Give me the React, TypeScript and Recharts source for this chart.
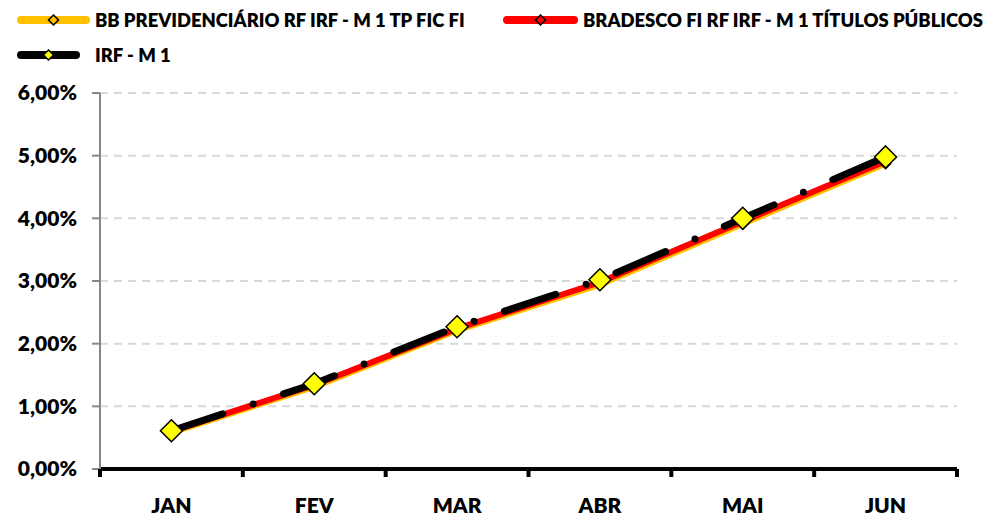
import { LineChart, Line, XAxis, YAxis, CartesianGrid } from "recharts";

// meses e rentabilidade acumulada (%)
const meses = ["JAN", "FEV", "MAR", "ABR", "MAI", "JUN"];
const bbPrev = [0.58, 1.31, 2.21, 2.94, 3.91, 4.87];
const bradesco = [0.6, 1.34, 2.24, 2.98, 3.95, 4.91];
const irfM1 = [0.61, 1.36, 2.27, 3.02, 4.0, 4.98];
const yTicks = [0, 1, 2, 3, 4, 5, 6];

const data = meses.map((mes, i) => ({
  mes,
  bb: bbPrev[i],
  bradesco: bradesco[i],
  irf: irfM1[i],
}));

const FONT = "Lato, 'Open Sans', sans-serif";

const formatPct = (v: number) => v.toFixed(2).replace(".", ",") + "%";

// losango usado como marcador
const diamond = (r: number, fill: string, sw: number) => (props: any) => {
  const { cx, cy, index } = props;
  if (cx == null || cy == null) return <g key={index} />;
  return (
    <path
      key={index}
      d={`M${cx},${cy - r} L${cx + r},${cy} L${cx},${cy + r} L${cx - r},${cy} Z`}
      fill={fill}
      stroke="#000"
      strokeWidth={sw}
    />
  );
};

// rótulo do eixo X + marca de divisão entre as categorias
const MonthTick = (props: any) => {
  const { x, y, payload, width, visibleTicksCount, index } = props;
  const band = width / visibleTicksCount;
  return (
    <g>
      <line x1={x - band / 2} x2={x - band / 2} y1={y} y2={y + 8} stroke="#000" strokeWidth={4} />
      {index === visibleTicksCount - 1 && (
        <line x1={x + band / 2} x2={x + band / 2} y1={y} y2={y + 8} stroke="#000" strokeWidth={4} />
      )}
      <text
        x={x}
        y={y + 44}
        textAnchor="middle"
        fontFamily={FONT}
        fontWeight={800}
        fontSize={21}
        fill="#000"
      >
        {payload.value}
      </text>
    </g>
  );
};

const legendItems = [
  { label: "BB PREVIDENCIÁRIO RF IRF - M 1 TP FIC FI", color: "#FFC000", dot: "#FFC000", left: 17, top: 20, len: 73 },
  { label: "BRADESCO FI RF IRF - M 1 TÍTULOS PÚBLICOS", color: "#FF0000", dot: "#FF0000", left: 503, top: 20, len: 75 },
  { label: "IRF - M 1", color: "#000000", dot: "#FFFF00", left: 17, top: 55, len: 63 },
];

function Legenda() {
  return (
    <>
      {legendItems.map((it) => (
        <div
          key={it.label}
          style={{
            position: "absolute",
            left: it.left,
            top: it.top - 12,
            height: 24,
            display: "flex",
            alignItems: "center",
            fontFamily: FONT,
            fontWeight: 800,
            fontSize: 18.4,
            color: "#000",
            whiteSpace: "nowrap",
          }}
        >
          <svg width={it.len} height={24} style={{ marginRight: 5 }}>
            <line x1={4} x2={it.len - 4} y1={12} y2={12} stroke={it.color} strokeWidth={8} strokeLinecap="round" />
            <path
              d={`M${it.len / 2},7 L${it.len / 2 + 5},12 L${it.len / 2},17 L${it.len / 2 - 5},12 Z`}
              fill={it.dot}
              stroke="#000"
              strokeWidth={1.5}
            />
          </svg>
          <span style={{ marginLeft: it.len === 63 ? 10 : 0 }}>{it.label}</span>
        </div>
      ))}
    </>
  );
}

export default function App() {
  return (
    <div style={{ position: "absolute", left: 0, top: 0, width: 983, height: 516, background: "#fff" }}>
      <Legenda />
      <LineChart
        width={983}
        height={516}
        data={data}
        margin={{ top: 93, right: 26, left: 0, bottom: 0 }}
      >
        <CartesianGrid vertical={false} stroke="#d9d9d9" strokeWidth={2} strokeDasharray="8 6" />
        <XAxis
          dataKey="mes"
          scale="band"
          height={47}
          axisLine={{ stroke: "#000", strokeWidth: 4 }}
          tickLine={false}
          tickSize={0}
          tickMargin={0}
          interval={0}
          tick={<MonthTick />}
        />
        <YAxis
          width={100}
          domain={[0, 6]}
          ticks={yTicks}
          tickFormatter={formatPct}
          axisLine={{ stroke: "#868686", strokeWidth: 2 }}
          tickLine={{ stroke: "#868686", strokeWidth: 2 }}
          tickSize={8}
          tickMargin={15}
          tick={{ fill: "#000", fontFamily: FONT, fontWeight: 800, fontSize: 21 }}
        />
        <Line
          dataKey="bb"
          stroke="#FFC000"
          strokeWidth={6}
          dot={diamond(5, "#FFC000", 1.5)}
          activeDot={false}
          isAnimationActive={false}
        />
        <Line
          dataKey="bradesco"
          stroke="#FF0000"
          strokeWidth={6}
          dot={diamond(5, "#FF0000", 1.5)}
          activeDot={false}
          isAnimationActive={false}
        />
        <Line
          dataKey="irf"
          stroke="#000"
          strokeWidth={7}
          strokeLinecap="round"
          strokeDasharray="54 32 0 32"
          dot={diamond(11, "#FFFF00", 1.5)}
          activeDot={false}
          isAnimationActive={false}
        />
      </LineChart>
    </div>
  );
}
